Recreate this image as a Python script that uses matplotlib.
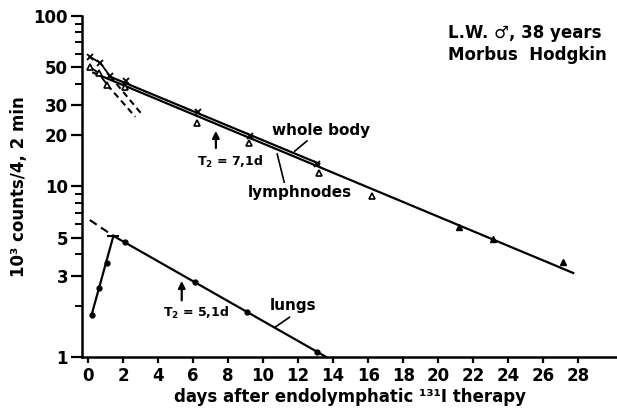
import numpy as np
import matplotlib
matplotlib.use('Agg')
import matplotlib.pyplot as plt
from matplotlib.ticker import FixedLocator, NullFormatter

# (days, 10^3 counts / 4.2 min)
wb_days = [0.1, 0.7, 1.25, 2.15, 6.3, 9.25, 13.1]
wb_counts = [57.7, 53.0, 44.5, 41.8, 27.3, 19.8, 13.5]

ln_days = [0.1, 0.6, 1.1, 2.1, 6.2, 9.2, 13.2, 16.2, 21.2, 23.1, 27.1]
ln_counts = [50.4, 46.3, 39.4, 38.2, 23.6, 18.0, 12.0, 8.8, 5.8, 4.9, 3.6]

lung_days = [0.2, 0.63, 1.1, 2.1, 6.1, 9.1, 13.05]
lung_counts = [1.76, 2.55, 3.55, 4.75, 2.77, 1.84, 1.07]

# fitted lines and extrapolations
wb_fit_days = [1.2, 13.2]
wb_fit_counts = [44.3, 13.6]
ln_fit_days = [0.3, 27.7]
ln_fit_counts = [46.5, 3.11]
wb_fast_days = [1.25, 3.1]
wb_fast_counts = [44.5, 26.3]
ln_fast_days = [1.1, 2.7]
ln_fast_counts = [39.4, 25.6]
lung_rise_days = [0.2, 1.45]
lung_rise_counts = [1.76, 5.13]
lung_fit_days = [1.45, 13.6]
lung_fit_counts = [5.13, 1.0]
lung_extra_days = [0.1, 1.45]
lung_extra_counts = [6.36, 5.13]

plt.rcParams['font.family'] = ['DejaVu Sans']
plt.rcParams['font.weight'] = 'bold'
plt.rcParams['axes.labelweight'] = 'bold'

fig = plt.figure(figsize=(6.17, 4.2), dpi=100)
ax = fig.add_axes([0.133, 0.15, 0.867, 0.812])

k = 'black'
lw = 1.6
ax.plot(wb_fit_days, wb_fit_counts, color=k, lw=lw)
ax.plot(ln_fit_days, ln_fit_counts, color=k, lw=lw)
ax.plot(wb_days[:3], wb_counts[:3], color=k, lw=1.3)
ax.plot(ln_days[:3], ln_counts[:3], color=k, lw=1.3)
ax.plot(wb_fast_days, wb_fast_counts, color=k, lw=1.5, ls=(0, (3, 2)))
ax.plot(ln_fast_days, ln_fast_counts, color=k, lw=1.5, ls=(0, (3, 2)))
ax.plot(lung_rise_days, lung_rise_counts, color=k, lw=lw)
ax.plot(lung_fit_days, lung_fit_counts, color=k, lw=lw)
ax.plot(lung_extra_days, lung_extra_counts, color=k, lw=1.5, ls=(0, (4, 2.5)))
# little cap at top of the rising lung curve
ax.plot([lung_rise_days[1]], [lung_rise_counts[1]], marker='_', ms=8, mew=1.5, color=k)

ax.plot(wb_days, wb_counts, ls='none', marker='x', ms=5, mew=1.3, color=k)
ax.plot(ln_days[:8], ln_counts[:8], ls='none', marker='^', ms=5, mew=1.2,
        mfc='white', mec=k)
ax.plot(ln_days[8:], ln_counts[8:], ls='none', marker='^', ms=5, color=k)
ax.plot(lung_days, lung_counts, ls='none', marker='o', ms=3.5, color=k)

ax.set_yscale('log')
ax.set_xlim(-0.34, 30.2)
ax.set_ylim(1, 100)
ax.yaxis.set_major_locator(FixedLocator([1, 3, 5, 10, 20, 30, 50, 100]))
ax.yaxis.set_minor_locator(FixedLocator([2, 4, 6, 7, 8, 9, 40, 60, 70, 80, 90]))
ax.yaxis.set_minor_formatter(NullFormatter())
ax.set_yticklabels(['1', '3', '5', '10', '20', '30', '50', '100'])
ax.set_xticks(np.arange(0, 29, 2))

for s in ['top', 'right']:
    ax.spines[s].set_visible(False)
for s in ['left', 'bottom']:
    ax.spines[s].set_linewidth(1.8)
ax.tick_params(axis='y', which='major', length=8, width=1.6, labelsize=12, pad=2)
ax.tick_params(axis='y', which='minor', length=5, width=1.4)
ax.tick_params(axis='x', length=4, width=1.6, labelsize=12, pad=3)

ax.set_xlabel('days after endolymphatic ¹³¹I therapy', fontsize=12, labelpad=2)
ax.set_ylabel('10³ counts/4, 2 min', fontsize=12, labelpad=4)

# annotations
ax.text(10.5, 21.4, 'whole body', fontsize=11, ha='left', va='center')
ax.plot([12.5, 11.8], [18.5, 16.1], color=k, lw=1.2)
ax.text(9.1, 9.2, 'lymphnodes', fontsize=11, ha='left', va='center')
ax.plot([11.2, 10.8], [10.6, 15.5], color=k, lw=1.2)
ax.text(6.2, 14.0, 'T$_2$ = 7,1d', fontsize=9, ha='left', va='center')
ax.annotate('', xy=(7.3, 22.0), xytext=(7.3, 16.2),
            arrowprops=dict(arrowstyle='-|>', color=k, lw=1.6, mutation_scale=10))
ax.text(4.3, 1.81, 'T$_2$ = 5,1d', fontsize=9, ha='left', va='center')
ax.annotate('', xy=(5.35, 2.9), xytext=(5.35, 2.07),
            arrowprops=dict(arrowstyle='-|>', color=k, lw=1.6, mutation_scale=10))
ax.text(10.4, 2.0, 'lungs', fontsize=11, ha='left', va='center')
ax.plot([11.5, 10.7], [1.71, 1.5], color=k, lw=1.2)

fig.text(0.726, 0.922, 'L.W. ♂, 38 years', fontsize=12, ha='left', va='center')
fig.text(0.726, 0.868, 'Morbus  Hodgkin', fontsize=12, ha='left', va='center')

fig.savefig('out.png', dpi=100)
